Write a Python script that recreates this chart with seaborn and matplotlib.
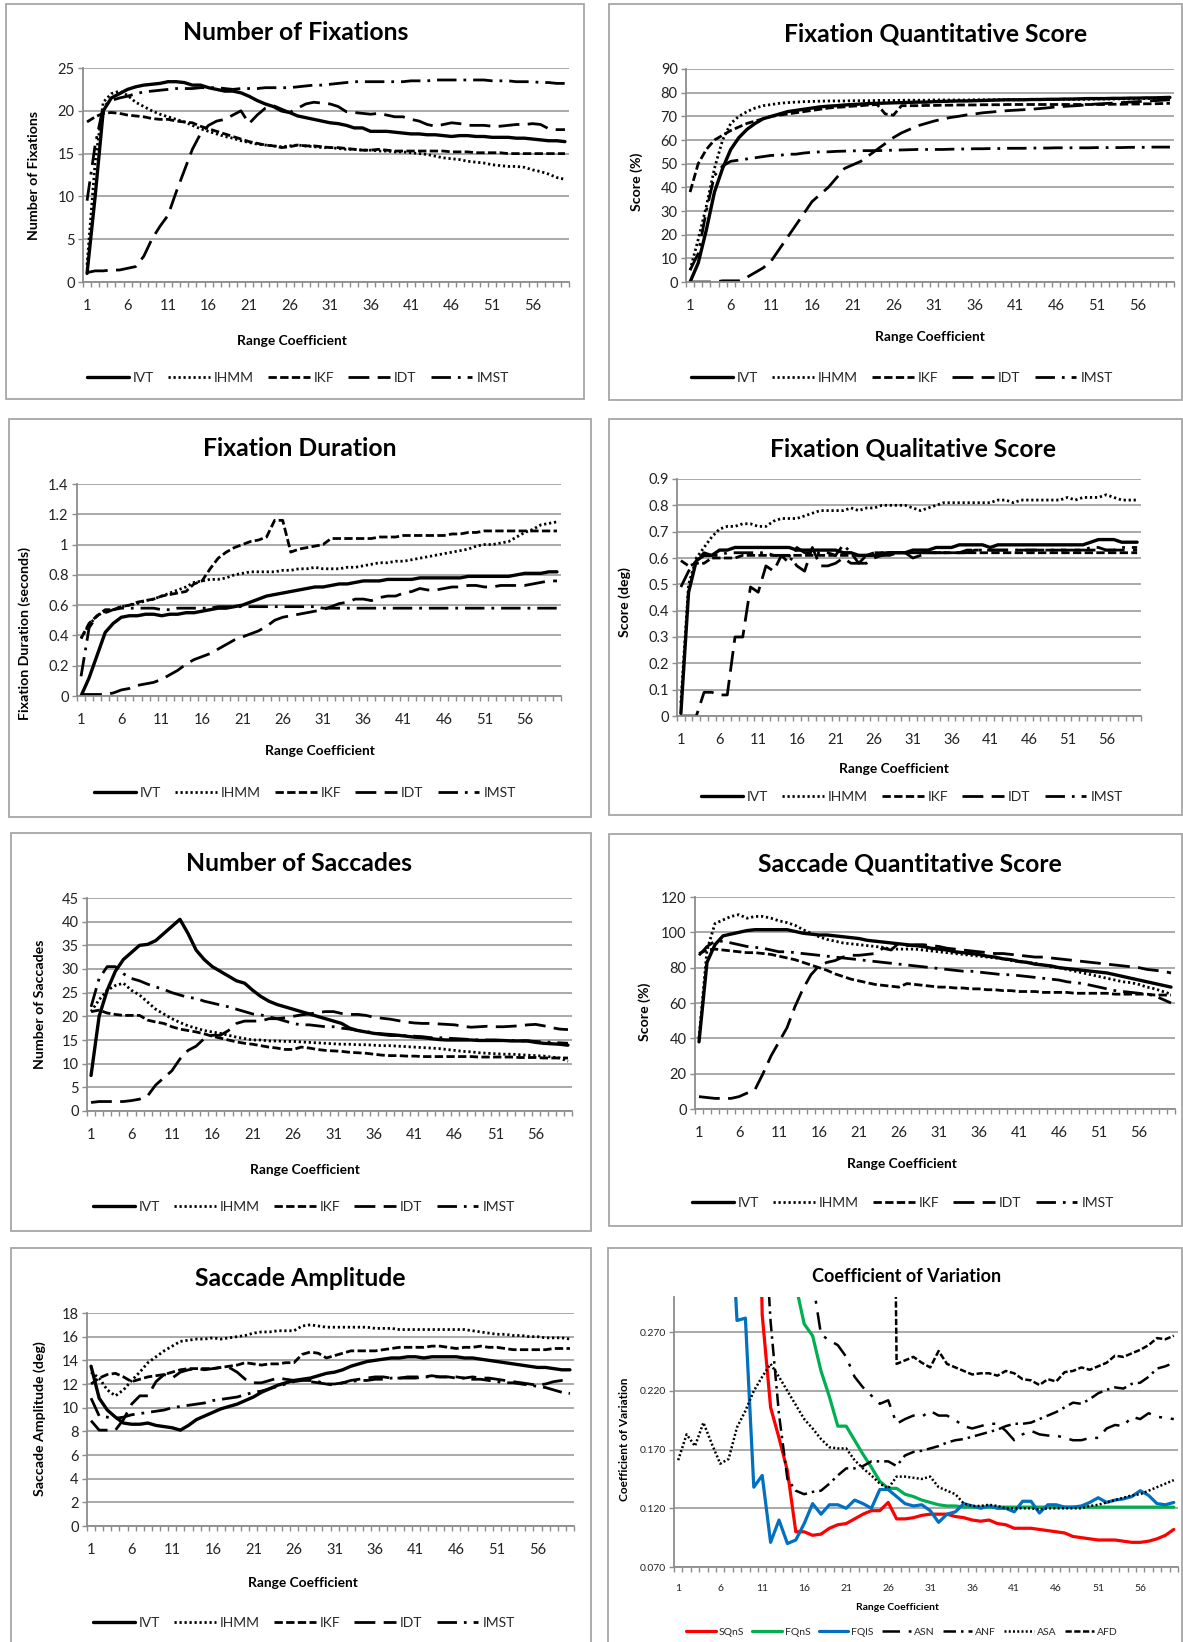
import numpy as np
import matplotlib
matplotlib.use("Agg")
import matplotlib.pyplot as plt
import seaborn as sns
from matplotlib.patches import Rectangle
from matplotlib.ticker import FixedLocator, FuncFormatter

sns.set_theme(style="white")
plt.rcParams['font.family'] = ['Lato', 'DejaVu Sans']

# ---------------- data ----------------
X = list(range(1, 61))
METHODS = ["IVT", "IHMM", "IKF", "IDT", "IMST"]
XTICKS = [1, 6, 11, 16, 21, 26, 31, 36, 41, 46, 51, 56]

# Number of Fixations
NF_IVT = [1.0, 10.0, 20.0, 21.5, 22.0, 22.5, 22.8, 23.0, 23.1, 23.2,
          23.4, 23.4, 23.3, 23.0, 23.0, 22.7, 22.5, 22.3, 22.3, 22.1,
          21.7, 21.2, 20.8, 20.5, 20.0, 19.8, 19.4, 19.2, 19.0, 18.8,
          18.6, 18.5, 18.3, 18.0, 18.0, 17.6, 17.6, 17.6, 17.5, 17.4,
          17.3, 17.3, 17.2, 17.2, 17.1, 17.0, 17.1, 17.1, 17.0, 17.0,
          16.9, 16.9, 16.9, 16.8, 16.8, 16.7, 16.6, 16.5, 16.5, 16.4]
NF_IHMM = [2.0, 14.0, 21.0, 22.0, 22.3, 21.8, 21.0, 20.5, 20.0, 19.6,
           19.3, 19.0, 18.7, 18.3, 17.9, 17.6, 17.3, 17.0, 16.8, 16.5,
           16.3, 16.1, 16.0, 15.9, 15.8, 15.9, 16.0, 15.9, 15.8, 15.7,
           15.7, 15.6, 15.5, 15.5, 15.4, 15.4, 15.3, 15.3, 15.2, 15.2,
           15.1, 15.0, 14.9, 14.7, 14.5, 14.4, 14.3, 14.1, 14.0, 13.9,
           13.7, 13.6, 13.5, 13.5, 13.4, 13.1, 12.9, 12.6, 12.2, 12.0]
NF_IKF = [18.7, 19.3, 19.7, 19.8, 19.7, 19.5, 19.4, 19.3, 19.1, 19.0,
          19.0, 18.8, 18.7, 18.6, 18.2, 17.9, 17.6, 17.3, 17.0, 16.7,
          16.4, 16.2, 16.0, 15.9, 15.7, 15.8, 16.0, 15.9, 15.9, 15.8,
          15.7, 15.7, 15.6, 15.5, 15.4, 15.4, 15.5, 15.4, 15.3, 15.3,
          15.3, 15.3, 15.3, 15.3, 15.3, 15.2, 15.2, 15.2, 15.1, 15.1,
          15.1, 15.1, 15.0, 15.0, 15.0, 15.0, 15.0, 15.0, 15.0, 15.0]
NF_IDT = [1.1, 1.3, 1.3, 1.4, 1.4, 1.6, 1.8, 3.0, 5.0, 6.5,
          7.8, 10.5, 13.0, 15.5, 17.3, 18.3, 18.8, 19.0, 19.5, 20.0,
          18.5, 19.5, 20.3, 20.6, 20.2, 19.8, 20.3, 20.8, 21.0, 20.9,
          20.8, 20.5, 19.9, 19.8, 19.7, 19.6, 19.7, 19.5, 19.3, 19.3,
          19.0, 18.8, 18.4, 18.2, 18.4, 18.6, 18.5, 18.3, 18.3, 18.3,
          18.2, 18.2, 18.3, 18.4, 18.4, 18.5, 18.4, 17.9, 17.8, 17.8]
NF_IMST = [9.5, 16.0, 20.5, 21.2, 21.5, 21.7, 22.0, 22.2, 22.3, 22.4,
           22.5, 22.6, 22.6, 22.6, 22.7, 22.7, 22.7, 22.6, 22.5, 22.6,
           22.6, 22.6, 22.7, 22.7, 22.7, 22.7, 22.8, 22.9, 23.0, 23.0,
           23.1, 23.2, 23.3, 23.4, 23.4, 23.4, 23.4, 23.4, 23.4, 23.4,
           23.5, 23.5, 23.5, 23.6, 23.6, 23.6, 23.6, 23.6, 23.6, 23.6,
           23.5, 23.5, 23.5, 23.4, 23.4, 23.4, 23.3, 23.3, 23.2, 23.2]

# Fixation Quantitative Score
FQN_IVT = [0, 8, 22, 38, 48, 56, 61, 64.5, 67, 69,
           70, 71, 72, 72.5, 73, 73.5, 74, 74.3, 74.5, 74.8,
           75, 75.2, 75.4, 75.5, 75.6, 75.7, 75.8, 75.9, 76, 76,
           76.2, 76.3, 76.4, 76.5, 76.5, 76.6, 76.7, 76.8, 76.9, 77,
           77, 77, 77.1, 77.1, 77.2, 77.2, 77.3, 77.3, 77.4, 77.5,
           77.5, 77.5, 77.6, 77.6, 77.7, 77.7, 77.8, 77.8, 77.9, 78]
FQN_IHMM = [5, 18, 32, 48, 60, 67, 70, 72, 73.5, 74.5,
            75, 75.5, 75.8, 76, 76.2, 76.3, 76.4, 76.5, 76.5, 76.5,
            76.6, 76.6, 76.6, 76.7, 76.7, 76.7, 76.8, 76.8, 76.8, 76.8,
            76.9, 76.9, 76.9, 76.9, 76.9, 77.0, 77.0, 77.0, 77.0, 77.0,
            77.0, 77.0, 77.1, 77.1, 77.1, 77.1, 77.2, 77.2, 77.2, 77.2,
            77.3, 77.3, 77.3, 77.4, 77.4, 77.4, 77.5, 77.5, 77.5, 77.5]
FQN_IKF = [38, 50, 56, 60, 62, 64, 65.5, 67, 68, 69,
           70, 70.5, 71, 71.5, 72, 72.5, 73, 73.5, 73.8, 74,
           74.3, 74.5, 74.8, 75, 71, 70.5, 74.5, 74.5, 74.5, 74.6,
           74.6, 74.7, 74.7, 74.8, 74.8, 74.8, 74.9, 74.9, 74.9, 75,
           75, 75, 75, 75, 75, 75, 75, 75, 75, 75,
           75, 75, 75.1, 75.1, 75.2, 75.2, 75.3, 75.3, 75.4, 75.5]
FQN_IDT = [0, 0, 0, 0, 0.5, 0.5, 0.5, 2, 4, 6,
           9, 14, 19, 24, 29, 34, 37, 40, 44, 48,
           49.5, 51, 53.5, 56, 58.5, 61, 63, 64.5, 66, 67,
           68, 68.8, 69.5, 70, 70.6, 71, 71.5, 71.8, 72.1, 72.4,
           72.6, 72.8, 73, 73.3, 73.6, 74, 74.2, 74.4, 74.6, 75,
           75.2, 75.4, 75.6, 75.8, 76, 76.2, 76.4, 76.6, 76.8, 77]
FQN_IMST = [5, 12, 30, 45, 49, 51, 51.5, 52, 52.5, 53,
            53.5, 53.5, 54, 54, 54.5, 54.8, 55, 55, 55.2, 55.3,
            55.4, 55.5, 55.5, 55.5, 55.6, 55.7, 55.8, 55.9, 56, 56,
            56, 56, 56.1, 56.2, 56.2, 56.3, 56.3, 56.4, 56.4, 56.5,
            56.5, 56.5, 56.6, 56.6, 56.6, 56.7, 56.7, 56.7, 56.7, 56.7,
            56.8, 56.8, 56.8, 56.8, 56.9, 56.9, 56.9, 57, 57, 57]

# Fixation Duration
FD_IVT = [0.0, 0.12, 0.27, 0.42, 0.48, 0.52, 0.53, 0.53, 0.54, 0.54,
          0.53, 0.54, 0.54, 0.55, 0.55, 0.56, 0.57, 0.58, 0.58, 0.59,
          0.60, 0.62, 0.64, 0.66, 0.67, 0.68, 0.69, 0.70, 0.71, 0.72,
          0.72, 0.73, 0.74, 0.74, 0.75, 0.76, 0.76, 0.76, 0.77, 0.77,
          0.77, 0.77, 0.78, 0.78, 0.78, 0.78, 0.78, 0.78, 0.79, 0.79,
          0.79, 0.79, 0.79, 0.79, 0.80, 0.81, 0.81, 0.81, 0.82, 0.82]
FD_IHMM = [0.38, 0.47, 0.53, 0.56, 0.57, 0.59, 0.60, 0.61, 0.63, 0.64,
           0.66, 0.68, 0.70, 0.72, 0.75, 0.76, 0.77, 0.77, 0.78, 0.80,
           0.81, 0.82, 0.82, 0.82, 0.82, 0.83, 0.83, 0.84, 0.84, 0.85,
           0.84, 0.84, 0.84, 0.85, 0.85, 0.86, 0.87, 0.88, 0.88, 0.89,
           0.89, 0.90, 0.91, 0.92, 0.93, 0.94, 0.95, 0.96, 0.97, 0.99,
           1.00, 1.00, 1.01, 1.02, 1.05, 1.08, 1.10, 1.13, 1.14, 1.15]
FD_IKF = [0.38, 0.48, 0.53, 0.57, 0.57, 0.59, 0.60, 0.62, 0.63, 0.64,
          0.66, 0.67, 0.68, 0.69, 0.74, 0.76, 0.84, 0.91, 0.95, 0.98,
          1.00, 1.02, 1.03, 1.05, 1.16, 1.16, 0.95, 0.97, 0.98, 0.99,
          1.00, 1.04, 1.04, 1.04, 1.04, 1.04, 1.04, 1.05, 1.05, 1.05,
          1.06, 1.06, 1.06, 1.06, 1.06, 1.06, 1.07, 1.07, 1.08, 1.08,
          1.09, 1.09, 1.09, 1.09, 1.09, 1.09, 1.09, 1.09, 1.09, 1.09]
FD_IDT = [0.01, 0.01, 0.01, 0.01, 0.02, 0.04, 0.05, 0.07, 0.08, 0.09,
          0.11, 0.14, 0.17, 0.21, 0.24, 0.26, 0.28, 0.31, 0.34, 0.37,
          0.39, 0.41, 0.43, 0.46, 0.50, 0.52, 0.53, 0.54, 0.55, 0.56,
          0.57, 0.59, 0.61, 0.62, 0.64, 0.64, 0.63, 0.65, 0.66, 0.66,
          0.68, 0.69, 0.71, 0.70, 0.70, 0.71, 0.72, 0.72, 0.73, 0.73,
          0.72, 0.72, 0.73, 0.73, 0.73, 0.73, 0.74, 0.75, 0.76, 0.76]
FD_IMST = [0.13, 0.45, 0.53, 0.55, 0.57, 0.58, 0.58, 0.58, 0.58, 0.58,
           0.57, 0.57, 0.58, 0.58, 0.58, 0.58, 0.58, 0.59, 0.59, 0.59,
           0.59, 0.59, 0.59, 0.59, 0.59, 0.59, 0.59, 0.59, 0.59, 0.59,
           0.58, 0.58, 0.58, 0.58, 0.58, 0.58, 0.58, 0.58, 0.58, 0.58,
           0.58, 0.58, 0.58, 0.58, 0.58, 0.58, 0.58, 0.58, 0.58, 0.58,
           0.58, 0.58, 0.58, 0.58, 0.58, 0.58, 0.58, 0.58, 0.58, 0.58]

# Fixation Qualitative Score
FQL_IVT = [0.01, 0.47, 0.59, 0.61, 0.61, 0.63, 0.63, 0.64, 0.64, 0.64,
           0.64, 0.64, 0.64, 0.64, 0.64, 0.63, 0.63, 0.63, 0.63, 0.63,
           0.63, 0.62, 0.62, 0.61, 0.61, 0.61, 0.61, 0.62, 0.62, 0.62,
           0.63, 0.63, 0.63, 0.64, 0.64, 0.64, 0.65, 0.65, 0.65, 0.65,
           0.64, 0.65, 0.65, 0.65, 0.65, 0.65, 0.65, 0.65, 0.65, 0.65,
           0.65, 0.65, 0.65, 0.66, 0.67, 0.67, 0.67, 0.66, 0.66, 0.66]
FQL_IHMM = [0.05, 0.50, 0.60, 0.64, 0.68, 0.71, 0.72, 0.72, 0.73, 0.73,
            0.72, 0.72, 0.74, 0.75, 0.75, 0.75, 0.76, 0.77, 0.78, 0.78,
            0.78, 0.78, 0.79, 0.78, 0.79, 0.79, 0.80, 0.80, 0.80, 0.80,
            0.79, 0.78, 0.79, 0.80, 0.81, 0.81, 0.81, 0.81, 0.81, 0.81,
            0.81, 0.82, 0.82, 0.81, 0.82, 0.82, 0.82, 0.82, 0.82, 0.82,
            0.83, 0.82, 0.83, 0.83, 0.83, 0.84, 0.83, 0.82, 0.82, 0.82]
FQL_IKF = [0.59, 0.57, 0.58, 0.58, 0.60, 0.60, 0.60, 0.60, 0.61, 0.61,
           0.61, 0.61, 0.61, 0.61, 0.61, 0.61, 0.61, 0.61, 0.61, 0.61,
           0.61, 0.61, 0.61, 0.61, 0.61, 0.62, 0.62, 0.62, 0.62, 0.62,
           0.62, 0.62, 0.62, 0.62, 0.62, 0.62, 0.62, 0.62, 0.62, 0.62,
           0.62, 0.62, 0.62, 0.62, 0.62, 0.62, 0.62, 0.62, 0.62, 0.62,
           0.62, 0.62, 0.62, 0.62, 0.62, 0.62, 0.62, 0.62, 0.62, 0.62]
FQL_IDT = [0.0, 0.0, 0.0, 0.09, 0.09, 0.08, 0.08, 0.30, 0.30, 0.49,
           0.47, 0.57, 0.55, 0.61, 0.61, 0.57, 0.55, 0.64, 0.57, 0.57,
           0.58, 0.60, 0.58, 0.58, 0.58, 0.60, 0.61, 0.61, 0.62, 0.62,
           0.60, 0.61, 0.62, 0.62, 0.62, 0.62, 0.62, 0.62, 0.63, 0.63,
           0.63, 0.63, 0.63, 0.63, 0.63, 0.63, 0.63, 0.63, 0.63, 0.63,
           0.63, 0.63, 0.63, 0.63, 0.63, 0.63, 0.63, 0.63, 0.63, 0.63]
FQL_IMST = [0.49, 0.55, 0.59, 0.62, 0.61, 0.61, 0.62, 0.62, 0.62, 0.62,
            0.62, 0.62, 0.61, 0.61, 0.58, 0.64, 0.62, 0.62, 0.62, 0.62,
            0.61, 0.65, 0.62, 0.58, 0.61, 0.62, 0.62, 0.62, 0.62, 0.62,
            0.62, 0.62, 0.62, 0.62, 0.62, 0.62, 0.62, 0.63, 0.63, 0.63,
            0.63, 0.63, 0.63, 0.63, 0.63, 0.63, 0.63, 0.63, 0.63, 0.63,
            0.63, 0.63, 0.63, 0.64, 0.64, 0.63, 0.63, 0.64, 0.64, 0.64]

# Number of Saccades
NS_IVT = [7.5, 20, 25.5, 29.5, 32, 33.5, 35, 35.2, 36, 37.5,
          39, 40.5, 37.5, 34, 32, 30.5, 29.5, 28.5, 27.5, 27,
          25.5, 24.2, 23.2, 22.5, 22, 21.5, 21, 20.5, 20, 19.5,
          19, 18.5, 17.5, 17, 16.7, 16.4, 16.2, 16, 16, 15.8,
          15.6, 15.5, 15.3, 15.1, 15, 15, 15, 15, 14.9, 14.9,
          14.9, 14.9, 14.8, 14.8, 14.8, 14.5, 14.3, 14.2, 14.1, 13.9]
NS_IHMM = [21, 23.5, 25.5, 26.5, 27, 25.5, 24.5, 23, 21.5, 20.5,
           19.5, 18.7, 18, 17.5, 17, 16.7, 16.4, 16, 15.6, 15.3,
           15, 15, 14.8, 14.8, 14.7, 14.7, 14.6, 14.5, 14.4, 14.3,
           14.2, 14.1, 14.1, 14, 14, 13.9, 13.8, 13.8, 13.7, 13.6,
           13.5, 13.4, 13.3, 13.2, 13, 12.8, 12.6, 12.5, 12.3, 12.2,
           12.1, 12, 12, 11.9, 11.8, 11.7, 11.6, 11.4, 11.2, 10.5]
NS_IKF = [21, 21.3, 20.7, 20.4, 20.2, 20.2, 20.2, 19.2, 18.8, 18.5,
          17.8, 17.3, 17, 16.7, 16.3, 15.8, 15.4, 15, 14.6, 14.3,
          14.1, 13.8, 13.5, 13.3, 13, 13, 13.5, 13.3, 13, 12.8,
          12.7, 12.6, 12.4, 12.3, 12.2, 12, 11.8, 11.7, 11.7, 11.6,
          11.6, 11.5, 11.5, 11.5, 11.5, 11.5, 11.5, 11.5, 11.4, 11.4,
          11.4, 11.4, 11.4, 11.3, 11.3, 11.3, 11.2, 11.2, 11.2, 11.2]
NS_IDT = [1.8, 2, 2, 2, 2, 2.2, 2.5, 3.2, 5.5, 7,
          8.5, 11, 12.8, 13.7, 15.3, 16, 16, 17, 18.5, 19,
          19, 19, 19.5, 19.5, 19.7, 20, 20.3, 20.5, 20.8, 21,
          21, 20.6, 20.4, 20.4, 20.2, 19.8, 19.6, 19.4, 19.1, 18.8,
          18.6, 18.5, 18.5, 18.4, 18.3, 18.2, 17.9, 17.7, 17.8, 17.9,
          17.8, 17.8, 17.9, 18, 18.2, 18.3, 18, 17.6, 17.3, 17.2]
NS_IMST = [22, 28, 30.5, 30.5, 29, 28, 27.5, 26.8, 26.2, 25.7,
           25, 24.5, 24, 23.8, 23.2, 22.8, 22.4, 22, 21.5, 21,
           20.5, 20.3, 19.9, 19.5, 19, 18.5, 18.2, 18.2, 18, 17.8,
           17.8, 17.5, 17.3, 17, 16.8, 16.5, 16.3, 16.2, 16, 15.9,
           15.8, 15.7, 15.5, 15.5, 15.4, 15.3, 15.2, 15.1, 15, 15,
           15, 14.9, 14.9, 14.8, 14.8, 14.7, 14.6, 14.5, 14.4, 14.3]

# Saccade Quantitative Score
SQ_IVT = [38, 83, 93, 98, 99, 100, 101, 101.5, 101.5, 101.5,
          101.5, 101.5, 100.5, 99.5, 99, 98.5, 98.5, 98, 97.5, 97,
          96.5, 95.5, 95, 94.5, 94, 93.5, 93, 92.5, 92, 91,
          90.5, 90, 89, 88.5, 88, 87.5, 86.5, 86, 85, 84.5,
          83.5, 83, 82, 81.5, 81, 80, 79.5, 79, 78.5, 78,
          77.5, 77, 76, 75, 74, 73, 72, 71, 70, 69]
SQ_IHMM = [40, 90, 105, 107, 109, 110, 108, 109, 109, 108,
           106.5, 105.5, 104, 101.5, 99.5, 97.5, 96, 95, 94, 93.5,
           93, 92.5, 92, 91.5, 90.5, 90.5, 90.5, 90.5, 90, 89.5,
           89, 88.5, 88, 87.5, 87, 86.5, 86, 85.5, 85, 84,
           83.5, 83, 82.5, 81.5, 80.5, 80, 79, 78, 77, 76,
           75, 74, 73, 72, 71.5, 70.5, 69, 68, 66.5, 65]
SQ_IKF = [88, 90, 90.5, 90, 89.5, 89, 88.5, 88.5, 88, 87.5,
          86.5, 85.5, 84.5, 83, 81.5, 80, 78.5, 76.5, 75, 73.5,
          72.5, 71.5, 70.5, 70, 69.5, 69, 71, 70.5, 70, 69.5,
          69, 69, 68.5, 68.5, 68, 68, 67.5, 67.5, 67, 67,
          66.5, 66.5, 66.5, 66, 66, 66, 66, 65.5, 65.5, 65.5,
          65.5, 65.5, 65, 65, 65, 65, 65, 64.5, 64.5, 64.5]
SQ_IDT = [7, 6.5, 6, 6, 6, 7, 9, 11, 20, 30,
          38, 46, 58, 68, 76, 81, 83, 84, 86, 87,
          87, 87.5, 88, 91, 90, 94, 92.5, 93, 93, 92.5,
          92, 91, 90.5, 90, 89.5, 89, 88.5, 88, 88, 87.5,
          87, 86.5, 86, 86, 85.5, 85, 84.5, 84, 83.5, 83,
          82.5, 82, 81.5, 81, 80.5, 80, 79, 78.5, 78, 77]
SQ_IMST = [87, 92, 95, 95, 94, 93, 92, 91.5, 91, 90,
           89, 89, 88.5, 88, 87.5, 87, 86.5, 86, 85.5, 85,
           84.5, 84, 83.5, 83, 82.5, 82, 81.5, 81, 80.5, 80,
           79.5, 79, 78.5, 78, 78, 77.5, 77, 76.5, 76, 76,
           75.5, 75, 74.5, 74, 73.5, 73, 72, 71.5, 71, 70,
           69, 68, 67, 66.5, 66, 65.5, 65, 64, 62, 60]

# Saccade Amplitude
SA_IVT = [13.5, 10.8, 9.8, 9.2, 8.7, 8.6, 8.6, 8.7, 8.5, 8.4,
          8.3, 8.1, 8.5, 9.0, 9.3, 9.6, 9.9, 10.1, 10.3, 10.6,
          10.9, 11.3, 11.6, 11.9, 12.1, 12.3, 12.4, 12.5, 12.7, 12.9,
          13.0, 13.2, 13.5, 13.7, 13.9, 14.0, 14.1, 14.2, 14.2, 14.3,
          14.3, 14.2, 14.3, 14.3, 14.3, 14.3, 14.2, 14.2, 14.1, 14.0,
          13.9, 13.8, 13.7, 13.6, 13.5, 13.4, 13.4, 13.3, 13.2, 13.2]
SA_IHMM = [13.0, 12.5, 11.5, 11.0, 11.5, 12.3, 13.0, 13.8, 14.3, 14.8,
           15.2, 15.6, 15.7, 15.8, 15.8, 15.9, 15.8, 15.9, 16.0, 16.1,
           16.3, 16.4, 16.4, 16.5, 16.5, 16.5, 16.9, 17.0, 16.9, 16.8,
           16.8, 16.8, 16.8, 16.8, 16.8, 16.7, 16.7, 16.7, 16.6, 16.6,
           16.6, 16.6, 16.6, 16.6, 16.6, 16.6, 16.6, 16.5, 16.4, 16.3,
           16.2, 16.2, 16.1, 16.1, 16.0, 16.0, 15.9, 15.9, 15.9, 15.8]
SA_IKF = [12.0, 12.5, 12.8, 12.9, 12.6, 12.2, 12.4, 12.6, 12.7, 12.8,
          13.0, 13.2, 13.3, 13.3, 13.3, 13.3, 13.4, 13.5, 13.6, 13.8,
          13.7, 13.6, 13.7, 13.7, 13.8, 13.8, 14.5, 14.7, 14.6, 14.2,
          14.4, 14.6, 14.8, 14.8, 14.8, 14.8, 14.9, 15.0, 15.1, 15.1,
          15.1, 15.1, 15.2, 15.2, 15.1, 15.0, 15.1, 15.1, 15.2, 15.1,
          15.1, 15.0, 14.9, 14.9, 14.9, 14.9, 14.9, 15.0, 15.0, 15.0]
SA_IDT = [8.9, 8.1, 8.1, 8.1, 9.0, 10.3, 11.0, 11.0, 12.2, 12.8,
          12.5, 13.0, 13.2, 13.3, 13.2, 13.3, 13.4, 13.4, 13.0, 12.4,
          12.1, 12.1, 12.3, 12.5, 12.4, 12.3, 12.3, 12.2, 12.1, 12.0,
          11.9, 12.1, 12.3, 12.4, 12.5, 12.6, 12.6, 12.5, 12.5, 12.6,
          12.6, 12.6, 12.7, 12.6, 12.6, 12.6, 12.5, 12.6, 12.5, 12.5,
          12.4, 12.3, 12.2, 12.1, 12.0, 11.9, 12.0, 12.2, 12.3, 12.3]
SA_IMST = [10.8, 9.3, 9.2, 9.1, 9.2, 9.4, 9.5, 9.6, 9.7, 9.8,
           10.0, 10.1, 10.2, 10.3, 10.4, 10.6, 10.7, 10.8, 10.9, 11.1,
           11.3, 11.4, 11.6, 11.8, 12.0, 12.2, 12.3, 12.3, 12.2, 12.0,
           12.0, 12.1, 12.2, 12.3, 12.3, 12.4, 12.4, 12.5, 12.5, 12.5,
           12.5, 12.6, 12.6, 12.6, 12.6, 12.5, 12.5, 12.4, 12.4, 12.3,
           12.2, 12.1, 12.1, 12.0, 11.9, 11.8, 11.7, 11.5, 11.3, 11.2]

# Coefficient of Variation (values above 0.30 run off the top of the chart)
CV_NAMES = ["SQnS", "FQnS", "FQlS", "ASN", "ANF", "ASA", "AFD"]
CV_SQnS = [0.60, 0.60, 0.60, 0.60, 0.60, 0.60, 0.60, 0.60, 0.60, 0.60,
           0.285, 0.206, 0.180, 0.152, 0.100, 0.100, 0.097, 0.098, 0.103, 0.106,
           0.107, 0.111, 0.115, 0.118, 0.118, 0.125, 0.111, 0.111, 0.112, 0.114,
           0.115, 0.115, 0.115, 0.113, 0.112, 0.110, 0.109, 0.110, 0.107, 0.106,
           0.103, 0.103, 0.103, 0.102, 0.101, 0.100, 0.099, 0.096, 0.095, 0.094,
           0.093, 0.093, 0.093, 0.092, 0.091, 0.091, 0.092, 0.094, 0.097, 0.102]
CV_FQnS = [0.60, 0.60, 0.60, 0.60, 0.60, 0.60, 0.60, 0.60, 0.60, 0.60,
           0.60, 0.60, 0.60, 0.60, 0.310, 0.277, 0.267, 0.237, 0.215, 0.190,
           0.190, 0.178, 0.166, 0.155, 0.143, 0.137, 0.137, 0.132, 0.130, 0.127,
           0.125, 0.123, 0.122, 0.122, 0.121, 0.121, 0.121, 0.121, 0.121, 0.121,
           0.121, 0.121, 0.121, 0.121, 0.121, 0.121, 0.121, 0.121, 0.121, 0.121,
           0.121, 0.121, 0.121, 0.121, 0.121, 0.121, 0.121, 0.121, 0.121, 0.121]
CV_FQlS = [0.60, 0.60, 0.60, 0.60, 0.60, 0.60, 0.413, 0.280, 0.282, 0.138,
           0.148, 0.091, 0.110, 0.090, 0.093, 0.107, 0.124, 0.115, 0.123, 0.123,
           0.120, 0.127, 0.124, 0.120, 0.136, 0.136, 0.130, 0.124, 0.122, 0.123,
           0.118, 0.108, 0.115, 0.117, 0.124, 0.122, 0.120, 0.122, 0.120, 0.120,
           0.117, 0.126, 0.126, 0.116, 0.123, 0.123, 0.121, 0.121, 0.122, 0.125,
           0.129, 0.125, 0.127, 0.128, 0.130, 0.135, 0.131, 0.124, 0.123, 0.125]
CV_ASN = [0.60, 0.60, 0.60, 0.60, 0.60, 0.60, 0.60, 0.60, 0.60, 0.60,
          0.60, 0.60, 0.60, 0.60, 0.60, 0.60, 0.314, 0.268, 0.263, 0.259,
          0.249, 0.232, 0.223, 0.216, 0.209, 0.212, 0.192, 0.196, 0.199, 0.198,
          0.203, 0.199, 0.199, 0.195, 0.190, 0.188, 0.190, 0.192, 0.192, 0.186,
          0.178, 0.183, 0.186, 0.183, 0.182, 0.182, 0.180, 0.178, 0.178, 0.180,
          0.180, 0.188, 0.191, 0.190, 0.198, 0.196, 0.201, 0.198, 0.197, 0.196]
CV_ANF = [0.60, 0.60, 0.60, 0.60, 0.60, 0.60, 0.60, 0.60, 0.60, 0.60,
          0.40, 0.279, 0.200, 0.145, 0.135, 0.132, 0.134, 0.135, 0.141, 0.148,
          0.154, 0.154, 0.156, 0.160, 0.160, 0.160, 0.156, 0.165, 0.168, 0.169,
          0.171, 0.173, 0.176, 0.178, 0.179, 0.181, 0.183, 0.185, 0.187, 0.190,
          0.192, 0.192, 0.193, 0.196, 0.199, 0.202, 0.206, 0.210, 0.209, 0.213,
          0.218, 0.221, 0.223, 0.222, 0.226, 0.227, 0.232, 0.239, 0.241, 0.244]
CV_ASA = [0.161, 0.183, 0.173, 0.193, 0.175, 0.158, 0.162, 0.189, 0.203, 0.220,
          0.232, 0.243, 0.232, 0.220, 0.208, 0.196, 0.188, 0.179, 0.172, 0.171,
          0.171, 0.161, 0.154, 0.148, 0.141, 0.137, 0.147, 0.147, 0.146, 0.145,
          0.147, 0.138, 0.135, 0.132, 0.124, 0.122, 0.122, 0.123, 0.122, 0.120,
          0.120, 0.120, 0.120, 0.119, 0.120, 0.120, 0.120, 0.120, 0.120, 0.122,
          0.123, 0.125, 0.127, 0.129, 0.131, 0.132, 0.135, 0.138, 0.141, 0.144]
CV_AFD = [0.90, 0.90, 0.90, 0.90, 0.90, 0.90, 0.90, 0.90, 0.90, 0.90,
          0.90, 0.90, 0.90, 0.90, 0.90, 0.90, 0.90, 0.90, 0.90, 0.90,
          0.90, 0.90, 0.90, 0.90, 0.90, 0.90, 0.243, 0.246, 0.249, 0.244,
          0.240, 0.254, 0.243, 0.240, 0.237, 0.234, 0.235, 0.235, 0.233, 0.237,
          0.235, 0.230, 0.229, 0.225, 0.230, 0.228, 0.236, 0.237, 0.240, 0.238,
          0.241, 0.244, 0.250, 0.249, 0.252, 0.255, 0.259, 0.265, 0.264, 0.267]

# ---------------- styling ----------------
W, H = 1183, 1642
fig = plt.figure(figsize=(W / 100, H / 100), dpi=100)
fig.patch.set_facecolor("white")

GRID = "#a3a3a3"
AXC = "#8c8c8c"

BW_STYLE = {
    "IVT": dict(linestyle="-", linewidth=2.4),
    "IHMM": dict(linestyle=(0, (0.8, 1.0)), linewidth=2.0),
    "IKF": dict(linestyle=(0, (3.0, 1.2)), linewidth=2.0),
    "IDT": dict(linestyle=(0, (7.5, 3.0)), linewidth=2.0),
    "IMST": dict(linestyle=(0, (7.0, 2.5, 1.0, 2.5)), linewidth=2.0),
}
BW_COLOR = {m: "black" for m in METHODS}

CV_STYLE = {
    "SQnS": dict(linestyle="-", linewidth=2.3),
    "FQnS": dict(linestyle="-", linewidth=2.3),
    "FQlS": dict(linestyle="-", linewidth=2.3),
    "ASN": dict(linestyle=(0, (7.0, 3.5, 1.2, 3.5)), linewidth=1.8),
    "ANF": dict(linestyle=(0, (5.0, 2.0, 1.0, 2.0)), linewidth=1.8),
    "ASA": dict(linestyle=(0, (0.8, 0.9)), linewidth=1.8),
    "AFD": dict(linestyle=(0, (2.5, 1.0)), linewidth=1.8),
}
CV_COLOR = {"SQnS": "#ff0000", "FQnS": "#00b050", "FQlS": "#0070c0",
            "ASN": "black", "ANF": "black", "ASA": "black", "AFD": "black"}


def fx(x):
    return x / W


def fy(y):
    return 1 - y / H


def panel(box, axbox, title, tpos, tsize, ylabel, ypos, xlpos, legpos,
          names, series, styles, colors, ylim, yticks, fmt,
          tick_fs=10.5, lab_fs=9.9, ylab_fs=10.2, leg_fs=10, handlelen=3.0, colsp=1.0):
    x0, y0, x1, y1 = box
    fig.patches.append(Rectangle((fx(x0), fy(y1)), (x1 - x0) / W, (y1 - y0) / H,
                                 transform=fig.transFigure, fill=False,
                                 edgecolor="#a6a6a6", linewidth=1.3))
    L, T, R, B = axbox
    ax = fig.add_axes([fx(L), fy(B), (R - L) / W, (B - T) / H])
    for name, vals in zip(names, series):
        sns.lineplot(x=X, y=vals, ax=ax, color=colors[name], **styles[name])
    ax.set_xlim(0.5, 60.5)
    ax.set_ylim(*ylim)
    ax.yaxis.set_major_locator(FixedLocator(yticks))
    ax.yaxis.set_major_formatter(FuncFormatter(fmt))
    ax.set_xticks(XTICKS)
    ax.set_xticklabels([str(t) for t in XTICKS])
    ax.set_xticks(np.arange(0.5, 61, 1.0), minor=True)
    ax.grid(False)
    ax.yaxis.grid(True, color=GRID, linewidth=1.3)
    ax.set_axisbelow(True)
    ax.tick_params(axis="x", which="major", length=0, pad=12, labelsize=tick_fs,
                   labelcolor="#222222", bottom=True)
    ax.tick_params(axis="x", which="minor", length=3.5, width=1.0, color=AXC,
                   direction="out", bottom=True)
    ax.tick_params(axis="y", which="major", length=3.5, width=1.0, color=AXC,
                   direction="out", pad=2.5, labelsize=tick_fs,
                   labelcolor="#222222", left=True)
    for s in ("top", "right"):
        ax.spines[s].set_visible(False)
    for s in ("left", "bottom"):
        ax.spines[s].set_color(AXC)
        ax.spines[s].set_linewidth(1.3)
    ax.set_xlabel("")
    ax.set_ylabel("")
    fig.text(fx(tpos[0]), fy(tpos[1]), title, ha="center", va="center",
             fontsize=tsize, fontweight="bold", color="black")
    fig.text(fx(ypos[0]), fy(ypos[1]), ylabel, ha="center", va="center",
             rotation=90, fontsize=ylab_fs, fontweight="bold", color="black")
    fig.text(fx(xlpos[0]), fy(xlpos[1]), "Range Coefficient", ha="center",
             va="center", fontsize=lab_fs, fontweight="bold", color="black")
    handles = list(ax.get_lines())[:len(names)]
    fig.legend(handles, names, loc="center", ncol=len(names), frameon=False,
               bbox_to_anchor=(fx(legpos[0]), fy(legpos[1])),
               bbox_transform=fig.transFigure, fontsize=leg_fs,
               handlelength=handlelen, handletextpad=0.3, columnspacing=colsp,
               borderpad=0, borderaxespad=0)
    return ax


gfmt = lambda v, p: f"{v:g}"
TS = 17.8

panel((6, 4, 584, 399), (83, 68, 569, 282), "Number of Fixations", (296, 33), TS,
      "Number of Fixations", (34, 176), (292, 341), (298, 378),
      METHODS, [NF_IVT, NF_IHMM, NF_IKF, NF_IDT, NF_IMST], BW_STYLE, BW_COLOR,
      (0, 25), [0, 5, 10, 15, 20, 25], gfmt)

panel((609, 4, 1182, 400), (686, 69, 1174, 282), "Fixation Quantitative Score", (936, 34), TS,
      "Score (%)", (637, 182), (930, 337), (902, 378),
      METHODS, [FQN_IVT, FQN_IHMM, FQN_IKF, FQN_IDT, FQN_IMST], BW_STYLE, BW_COLOR,
      (0, 90), list(range(0, 91, 10)), gfmt)

panel((9, 419, 591, 817), (77, 484, 561, 696), "Fixation Duration", (300, 449), TS,
      "Fixation Duration (seconds)", (25, 633), (320, 751), (305, 793),
      METHODS, [FD_IVT, FD_IHMM, FD_IKF, FD_IDT, FD_IMST], BW_STYLE, BW_COLOR,
      (0, 1.4), [0, 0.2, 0.4, 0.6, 0.8, 1.0, 1.2, 1.4], gfmt)

panel((609, 419, 1182, 815), (677, 479, 1141, 716), "Fixation Qualitative Score", (913, 449), TS,
      "Score (deg)", (625, 602), (894, 769), (912, 797),
      METHODS, [FQL_IVT, FQL_IHMM, FQL_IKF, FQL_IDT, FQL_IMST], BW_STYLE, BW_COLOR,
      (0, 0.9), [0, 0.1, 0.2, 0.3, 0.4, 0.5, 0.6, 0.7, 0.8, 0.9], gfmt)

panel((11, 833, 591, 1231), (87, 898, 572, 1111), "Number of Saccades", (299, 863), TS,
      "Number of Saccades", (40, 1004), (305, 1170), (304, 1207),
      METHODS, [NS_IVT, NS_IHMM, NS_IKF, NS_IDT, NS_IMST], BW_STYLE, BW_COLOR,
      (0, 45), list(range(0, 46, 5)), gfmt)

panel((609, 834, 1182, 1226), (695, 897, 1175, 1109), "Saccade Quantitative Score", (910, 864), TS,
      "Score (%)", (645, 1012), (902, 1164), (903, 1203),
      METHODS, [SQ_IVT, SQ_IHMM, SQ_IKF, SQ_IDT, SQ_IMST], BW_STYLE, BW_COLOR,
      (0, 120), list(range(0, 121, 20)), gfmt)

panel((11, 1248, 591, 1660), (87, 1313, 574, 1526), "Saccade Amplitude", (300, 1278), TS,
      "Saccade Amplitude (deg)", (40, 1419), (303, 1583), (304, 1623),
      METHODS, [SA_IVT, SA_IHMM, SA_IKF, SA_IDT, SA_IMST], BW_STYLE, BW_COLOR,
      (0, 18), list(range(0, 19, 2)), gfmt)

panel((608, 1248, 1182, 1660), (674, 1297, 1178, 1567), "Coefficient of Variation", (907, 1276), 13,
      "Coefficient of Variation", (624, 1439), (897, 1607), (902, 1632),
      CV_NAMES, [CV_SQnS, CV_FQnS, CV_FQlS, CV_ASN, CV_ANF, CV_ASA, CV_AFD], CV_STYLE, CV_COLOR,
      (0.07, 0.30), [0.07, 0.12, 0.17, 0.22, 0.27], lambda v, p: f"{v:.3f}",
      tick_fs=7.5, lab_fs=7.5, ylab_fs=8.5, leg_fs=7.5, handlelen=2.8, colsp=0.8)

fig.savefig("out.png", dpi=100, facecolor="white")
